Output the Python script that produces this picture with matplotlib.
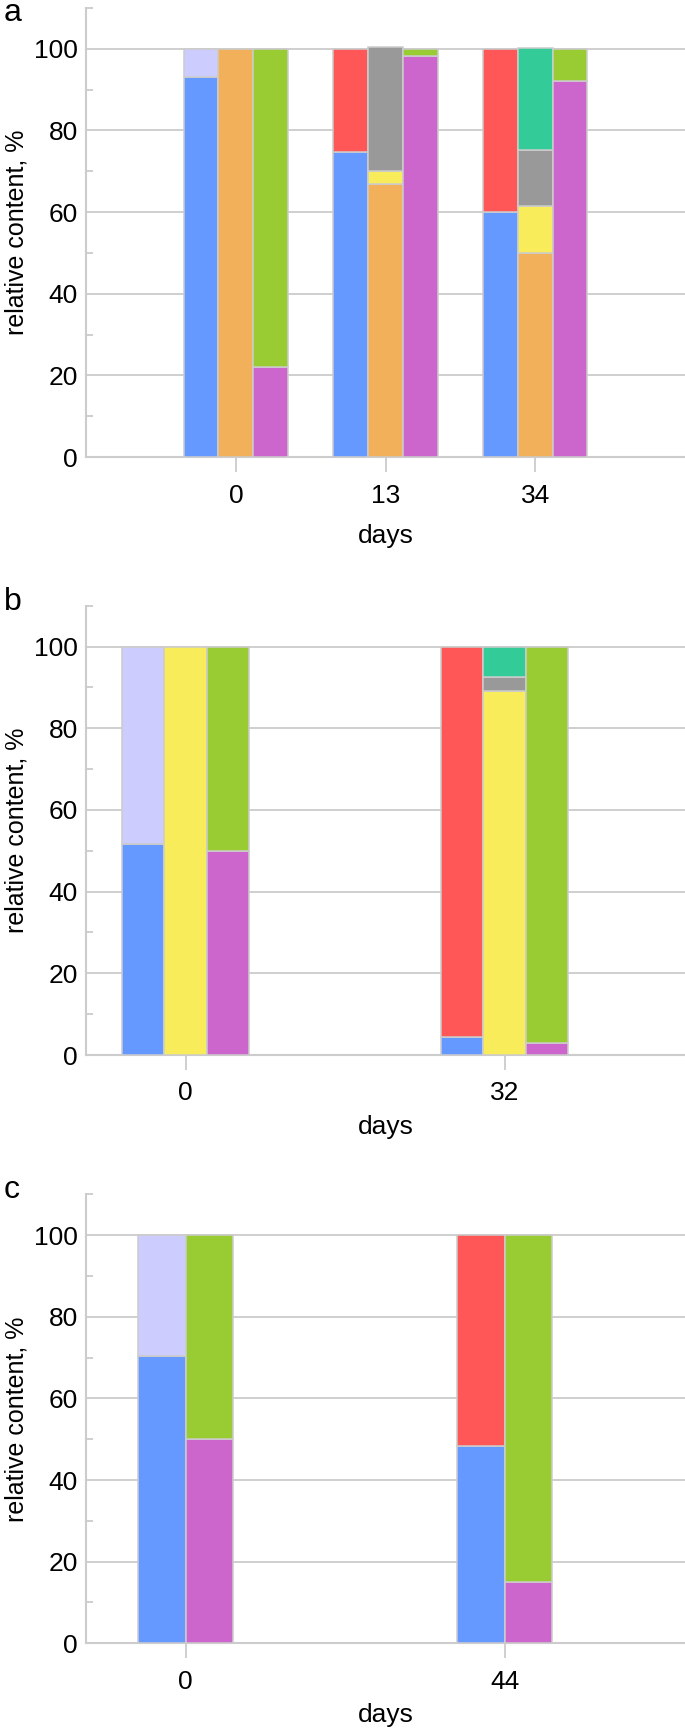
import matplotlib
matplotlib.use('Agg')
import matplotlib.pyplot as plt
from matplotlib.ticker import MultipleLocator
import numpy as np

# cores das frações
BLUE = '#6699ff'
LAVENDER = '#ccccff'
RED = '#ff5757'
ORANGE = '#f2b05a'
YELLOW = '#f9ec5a'
GRAY = '#999999'
TEAL = '#33cc99'
MAGENTA = '#cc66cc'
GREEN = '#99cc33'
LINE = '#cccccc'

# painel a: dias 0, 13, 34 (três colunas por dia)
days_a = ['0', '13', '34']
a_blue = [93.0, 74.8, 60.1]
a_lavender = [7.0, 0, 0]
a_red = [0, 25.2, 39.9]
a_orange = [100.0, 67.0, 50.0]
a_yellow = [0, 3.1, 11.5]
a_gray = [0, 30.3, 13.7]
a_teal = [0, 0, 25.0]
a_magenta = [22.1, 98.2, 92.0]
a_green = [77.9, 1.8, 8.0]

# painel b: dias 0, 32
days_b = ['0', '32']
b_blue = [51.7, 4.4]
b_lavender = [48.3, 0]
b_red = [0, 95.6]
b_yellow = [100.0, 89.2]
b_gray = [0, 3.4]
b_teal = [0, 7.4]
b_magenta = [50.0, 2.9]
b_green = [50.0, 97.1]

# painel c: dias 0, 44
days_c = ['0', '44']
c_blue = [70.3, 48.4]
c_lavender = [29.7, 0]
c_red = [0, 51.6]
c_magenta = [50.0, 15.0]
c_green = [50.0, 85.0]

FIG_W, FIG_H = 685, 1729


def empilhar(ax, x, camadas, largura):
    """Desenha uma coluna empilhada; camadas = [(valores, cor), ...] de baixo para cima"""
    base = np.zeros(len(x))
    for valores, cor in camadas:
        valores = np.asarray(valores, dtype=float)
        m = valores > 0
        ax.bar(np.asarray(x)[m], valores[m], width=largura, bottom=base[m],
               color=cor, edgecolor=LINE, linewidth=1.1, zorder=3)
        base = base + valores


def estilo(ax, dias, xlim, letra, y_letra, labelpad):
    ax.set_ylim(0, 110)
    ax.set_xlim(*xlim)
    ax.set_xticks(range(len(dias)))
    ax.set_xticklabels(dias)
    ax.yaxis.set_major_locator(MultipleLocator(20))
    ax.yaxis.set_minor_locator(MultipleLocator(10))
    ax.grid(axis='y', which='major', color=LINE, linewidth=1.3, zorder=0)
    ax.set_axisbelow(True)
    for s in ['top', 'right']:
        ax.spines[s].set_visible(False)
    for s in ['left', 'bottom']:
        ax.spines[s].set_color(LINE)
        ax.spines[s].set_linewidth(1.5)
    ax.tick_params(axis='y', which='major', length=0, pad=6, labelsize=19)
    ax.tick_params(axis='y', which='minor', direction='in', length=5,
                   width=1.3, color=LINE)
    ax.tick_params(axis='x', which='major', direction='out', length=11,
                   width=1.3, color=LINE, pad=8, labelsize=19)
    ax.set_xlabel('days', fontsize=19, labelpad=labelpad)
    ax.set_ylabel('relative content, %', fontsize=18)
    ax.yaxis.set_label_coords(-0.097, 0.5)
    # letra do painel em pixels da figura
    fig.text(4 / FIG_W, 1 - y_letra / FIG_H, letra, fontsize=23,
             ha='left', va='baseline')


plt.rcParams['font.family'] = ['Liberation Sans', 'DejaVu Sans']

fig = plt.figure(figsize=(6.85, 17.29), dpi=100)
L, W = 0.1257, 0.8743

# painel a
ax = fig.add_axes([L, 0.7356, W, 0.2598])
x = np.arange(len(days_a))
w = 0.232
empilhar(ax, x - w, [(a_blue, BLUE), (a_lavender, LAVENDER), (a_red, RED)], w)
empilhar(ax, x, [(a_orange, ORANGE), (a_yellow, YELLOW), (a_gray, GRAY), (a_teal, TEAL)], w)
empilhar(ax, x + w, [(a_magenta, MAGENTA), (a_green, GREEN)], w)
estilo(ax, days_a, (-1.0, 3.0), 'a', 20.7, 12)

# painel b
ax = fig.add_axes([L, 0.3898, W, 0.2599])
x = np.arange(len(days_b))
w = 0.1334
empilhar(ax, x - w, [(b_blue, BLUE), (b_lavender, LAVENDER), (b_red, RED)], w)
empilhar(ax, x, [(b_yellow, YELLOW), (b_gray, GRAY), (b_teal, TEAL)], w)
empilhar(ax, x + w, [(b_magenta, MAGENTA), (b_green, GREEN)], w)
estilo(ax, days_b, (-0.312, 1.566), 'b', 610, 7)

# painel c
ax = fig.add_axes([L, 0.0496, W, 0.2596])
x = np.arange(len(days_c))
w = 0.1486
empilhar(ax, x - w / 2, [(c_blue, BLUE), (c_lavender, LAVENDER), (c_red, RED)], w)
empilhar(ax, x + w / 2, [(c_magenta, MAGENTA), (c_green, GREEN)], w)
estilo(ax, days_c, (-0.312, 1.566), 'c', 1198.3, 7)

fig.savefig('out.png', dpi=100)
